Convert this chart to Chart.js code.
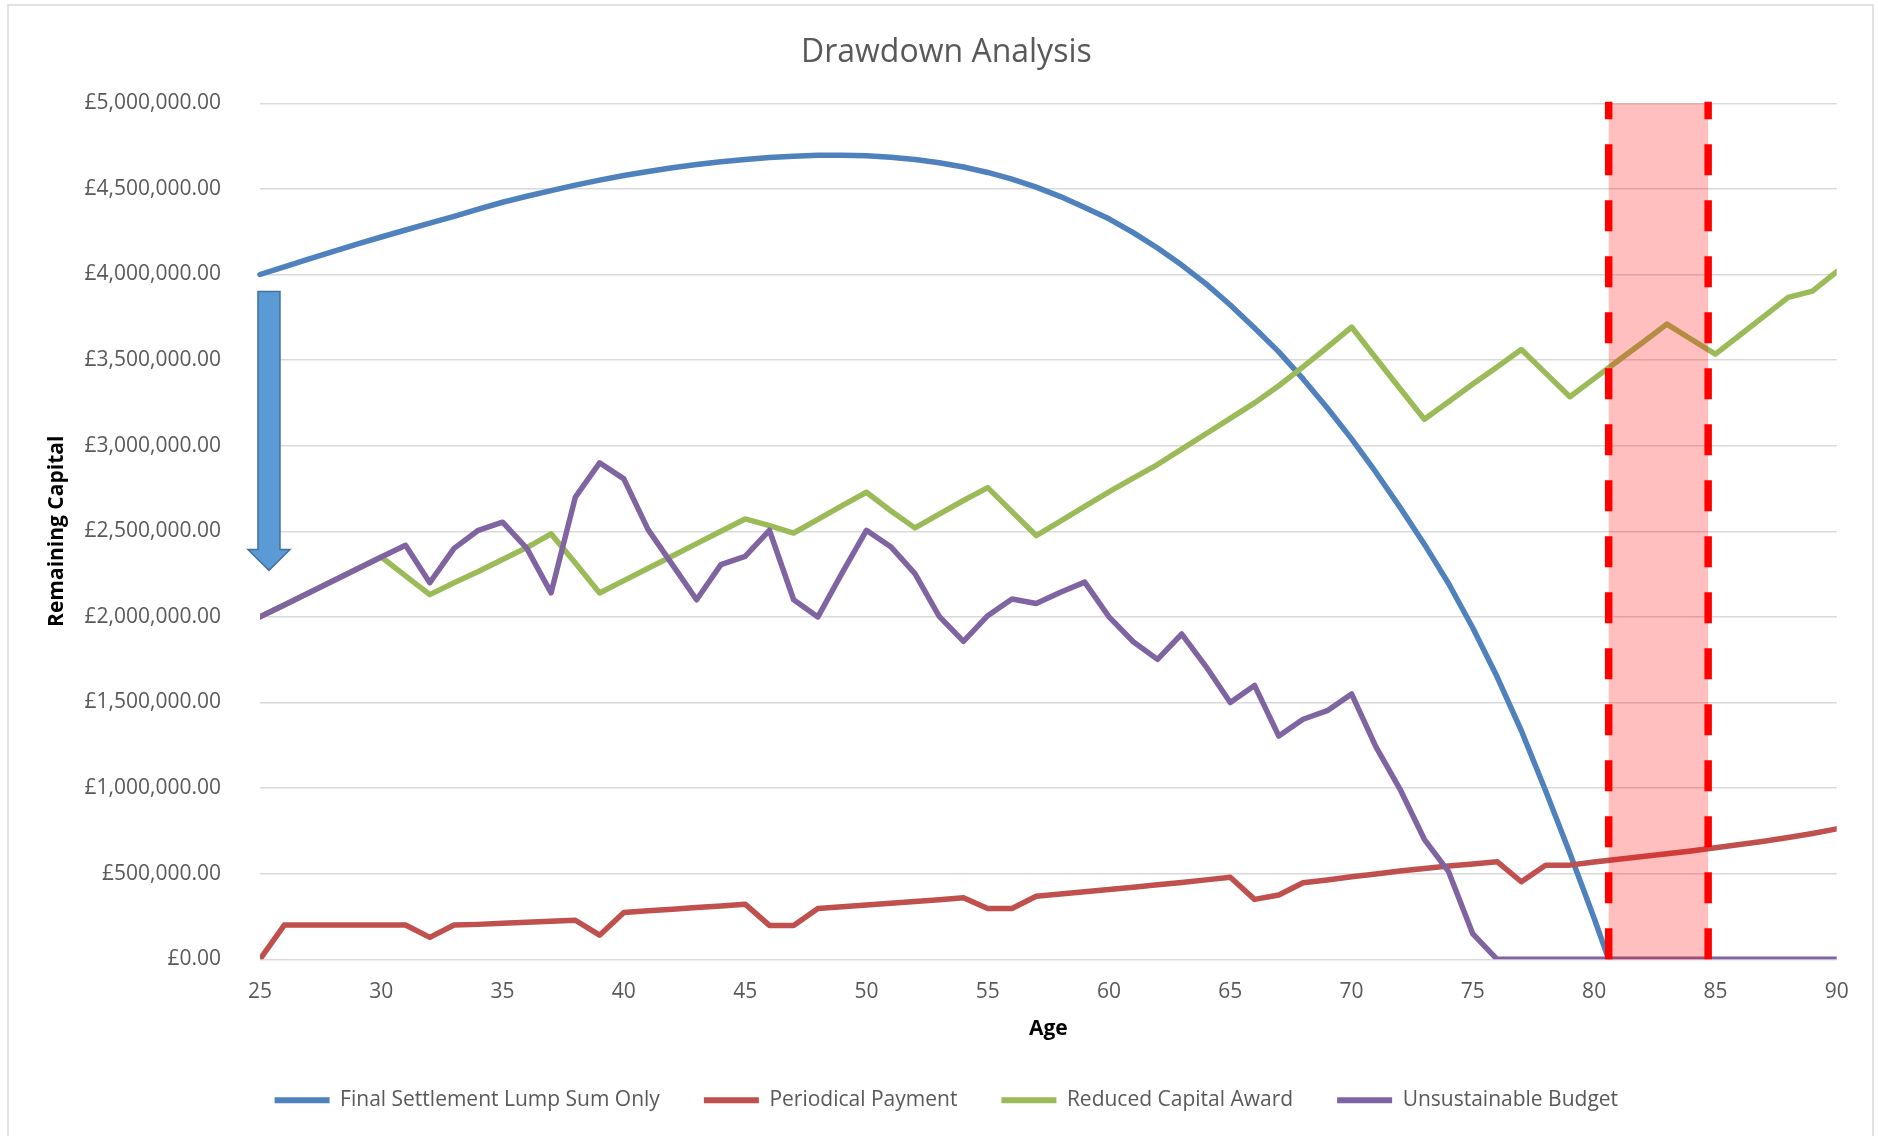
<!DOCTYPE html>
<html>
<head>
<meta charset="utf-8">
<title>Drawdown Analysis</title>
<script src="https://cdn.jsdelivr.net/npm/chart.js@4.4.1/dist/chart.umd.min.js"></script>
<style>
  html, body { margin: 0; padding: 0; background: #ffffff; }
  #wrap { width: 1878px; height: 1136px; position: relative; }
</style>
</head>
<body>
<div id="wrap"><canvas id="drawdown" width="1878" height="1136"></canvas></div>
<script>
// Age of the claimant, one point per year
const ages = [25, 26, 27, 28, 29, 30, 31, 32, 33, 34, 35, 36, 37, 38, 39, 40, 41, 42, 43, 44, 45,
  46, 47, 48, 49, 50, 51, 52, 53, 54, 55, 56, 57, 58, 59, 60, 61, 62, 63, 64, 65, 66, 67, 68,
  69, 70, 71, 72, 73, 74, 75, 76, 77, 78, 79, 80, 81, 82, 83, 84, 85, 86, 87, 88, 89, 90];

// Remaining capital (GBP) under each scenario
const lumpSumOnly = [4000000, 4045000, 4090000, 4134000, 4177000, 4219000, 4260000, 4300000,
  4340000, 4382000, 4422000, 4457000, 4490000, 4522000, 4551000, 4578000, 4602000, 4624000,
  4643000, 4659000, 4672000, 4683000, 4691000, 4696000, 4697000, 4693000, 4685000, 4672000,
  4653000, 4628000, 4596000, 4557000, 4510000, 4455000, 4392000, 4325000, 4245000, 4155000,
  4055000, 3945000, 3822000, 3688000, 3548000, 3390000, 3220000, 3040000, 2845000, 2640000,
  2425000, 2195000, 1935000, 1650000, 1335000, 985000, 620000, 240000, -160000,
  null, null, null, null, null, null, null, null, null];

const periodicalPayment = [0, 200000, 200000, 200000, 200000, 200000, 200000, 128000, 200000,
  204000, 210000, 216000, 222000, 228000, 141000, 273000, 283000, 293000, 302000, 312000,
  322000, 198000, 198000, 297000, 307000, 317000, 328000, 338000, 348000, 359000, 297000,
  297000, 368000, 382000, 395000, 408000, 421000, 435000, 449000, 464000, 479000, 350000,
  376000, 447000, 463000, 482000, 498000, 516000, 531000, 545000, 557000, 570000, 453000,
  549000, 550000, 568000, 584000, 600000, 616000, 633000, 651000, 670000, 690000, 711000,
  735000, 762000];

const reducedCapitalAward = [2000000, 2070000, 2140000, 2210000, 2280000, 2350000, 2240000,
  2130000, 2200000, 2265000, 2335000, 2405000, 2485000, 2315000, 2140000, 2212000, 2284000,
  2356000, 2428000, 2500000, 2572000, 2533000, 2490000, 2570000, 2650000, 2728000, 2620000,
  2520000, 2600000, 2680000, 2755000, 2615000, 2475000, 2560000, 2645000, 2730000, 2810000,
  2890000, 2980000, 3070000, 3160000, 3250000, 3350000, 3460000, 3575000, 3693000, 3512000,
  3333000, 3155000, 3257000, 3360000, 3460000, 3562000, 3424000, 3286000, 3392000, 3498000,
  3603000, 3710000, 3622000, 3535000, 3645000, 3755000, 3866000, 3903000, 4016000];

const unsustainableBudget = [2000000, 2070000, 2140000, 2210000, 2280000, 2350000, 2418000,
  2200000, 2400000, 2506000, 2553000, 2400000, 2140000, 2700000, 2900000, 2806000, 2510000,
  2305000, 2100000, 2305000, 2354000, 2506000, 2100000, 2000000, 2257000, 2506000, 2410000,
  2253000, 2003000, 1857000, 2007000, 2105000, 2078000, 2144000, 2203000, 2000000, 1855000,
  1752000, 1900000, 1710000, 1500000, 1600000, 1304000, 1402000, 1452000, 1550000, 1242000,
  993000, 701000, 512000, 148000, 0, 0, 0, 0, 0, 0, 0, 0, 0, 0, 0, 0, 0, 0, 0];

const seriesNames = ['Final Settlement Lump Sum Only', 'Periodical Payment',
  'Reduced Capital Award', 'Unsustainable Budget'];

// Y axis range and tick step (GBP); x axis age range and label step
const capitalRange = [0, 5000000];
const capitalStep = 500000;
const ageRange = [25, 90];
const ageStep = 5;

// Shaded life-expectancy window (ages) and the drop arrow (age, capital levels)
const lifeExpectancyWindow = [80.6, 84.7];
const dropArrow = { age: 25.37, top: 3900000, headStart: 2393000, tip: 2272000 };

const colours = {
  lump: '#4F81BD', periodical: '#C0504D', reduced: '#9BBB59', budget: '#8064A2'
};

function pounds(v) {
  const parts = Number(v).toFixed(2).split('.');
  return '\u00A3' + parts[0].replace(/\B(?=(\d{3})+(?!\d))/g, ',') + '.' + parts[1];
}

Chart.defaults.font.family = "'Open Sans', 'Liberation Sans', sans-serif";
Chart.defaults.color = '#595959';

const decorations = {
  id: 'decorations',
  beforeDraw(chart) {
    // chart frame
    const ctx = chart.ctx;
    ctx.save();
    ctx.strokeStyle = '#D9D9D9';
    ctx.lineWidth = 1.5;
    ctx.beginPath();
    ctx.moveTo(8, chart.height);
    ctx.lineTo(8, 5);
    ctx.lineTo(1873, 5);
    ctx.lineTo(1873, chart.height);
    ctx.stroke();
    ctx.restore();
  },
  afterDatasetsDraw(chart) {
    const { ctx, scales: { x, y } } = chart;
    const yTop = y.getPixelForValue(capitalRange[1]);
    const yBot = y.getPixelForValue(capitalRange[0]);
    const xa = x.getPixelForValue(lifeExpectancyWindow[0]);
    const xb = x.getPixelForValue(lifeExpectancyWindow[1]);

    ctx.save();
    ctx.fillStyle = 'rgba(255, 0, 0, 0.25)';
    ctx.fillRect(xa, yTop, xb - xa, yBot - yTop);
    ctx.strokeStyle = '#FF0000';
    ctx.lineWidth = 7.5;
    ctx.lineCap = 'butt';
    ctx.setLineDash([31, 25]);
    [xa, xb].forEach(px => {
      ctx.beginPath();
      ctx.moveTo(px, yBot);
      ctx.lineTo(px, yTop - 1.5);
      ctx.stroke();
    });
    ctx.setLineDash([]);

    // downward block arrow
    const cx = x.getPixelForValue(dropArrow.age);
    const t = y.getPixelForValue(dropArrow.top);
    const h = y.getPixelForValue(dropArrow.headStart);
    const tip = y.getPixelForValue(dropArrow.tip);
    const shaft = 11, head = 21;
    ctx.beginPath();
    ctx.moveTo(cx - shaft, t);
    ctx.lineTo(cx + shaft, t);
    ctx.lineTo(cx + shaft, h);
    ctx.lineTo(cx + head, h);
    ctx.lineTo(cx, tip);
    ctx.lineTo(cx - head, h);
    ctx.lineTo(cx - shaft, h);
    ctx.closePath();
    ctx.fillStyle = '#5B9BD5';
    ctx.fill();
    ctx.strokeStyle = '#41719C';
    ctx.lineWidth = 1.5;
    ctx.lineJoin = 'miter';
    ctx.stroke();
    ctx.restore();
  }
};

function lineSet(label, data, colour, order, extra) {
  return Object.assign({
    label, data, order,
    borderColor: colour,
    backgroundColor: colour,
    borderWidth: 5.5,
    pointRadius: 0,
    pointHoverRadius: 0,
    tension: 0,
    borderJoinStyle: 'round',
    borderCapStyle: 'round',
    spanGaps: false
  }, extra || {});
}

new Chart(document.getElementById('drawdown'), {
  type: 'line',
  data: {
    labels: ages,
    datasets: [
      lineSet(seriesNames[0], lumpSumOnly, colours.lump, 4,
        { clip: { left: 10, top: 10, right: 10, bottom: 0 } }),
      lineSet(seriesNames[1], periodicalPayment, colours.periodical, 3),
      lineSet(seriesNames[2], reducedCapitalAward, colours.reduced, 2),
      lineSet(seriesNames[3], unsustainableBudget, colours.budget, 1)
    ]
  },
  options: {
    responsive: false,
    animation: false,
    events: [],
    layout: { padding: { left: 56, right: 41.3, top: 0, bottom: 15.2 } },
    plugins: {
      tooltip: { enabled: false },
      title: {
        display: true,
        text: 'Drawdown Analysis',
        color: '#595959',
        font: { size: 32, weight: 'normal' },
        padding: { top: 33.4, bottom: 31.5 }
      },
      legend: {
        position: 'bottom',
        labels: {
          color: '#595959',
          font: { size: 21 },
          boxWidth: 55,
          boxHeight: 6,
          padding: 44,
          sort: (a, b) => a.datasetIndex - b.datasetIndex,
          generateLabels(chart) {
            return Chart.defaults.plugins.legend.labels.generateLabels(chart)
              .map(item => Object.assign({}, item, { lineWidth: 0, fillStyle: item.strokeStyle }));
          }
        }
      }
    },
    scales: {
      x: {
        type: 'linear',
        min: ageRange[0],
        max: ageRange[1],
        grid: { display: false, drawTicks: false },
        border: { display: false },
        ticks: { stepSize: ageStep, padding: 19.8, color: '#595959', font: { size: 21 }, maxRotation: 0 },
        title: {
          display: true, text: 'Age', color: '#000000',
          font: { size: 21, weight: 'bold' }, padding: { top: 0, bottom: 3.7 }
        },
        afterFit(scale) { scale.height = 86.5; scale.paddingLeft = 0; scale.paddingRight = 0; }
      },
      y: {
        min: capitalRange[0],
        max: capitalRange[1],
        grid: { color: '#D9D9D9', lineWidth: 1.5, drawTicks: false },
        border: { display: false },
        ticks: {
          stepSize: capitalStep, padding: 39, color: '#595959', font: { size: 21 },
          callback: v => pounds(v)
        },
        title: {
          display: true, text: 'Remaining Capital', color: '#000000',
          font: { size: 21, weight: 'bold' }, padding: { top: -11.6, bottom: 0 }
        },
        afterFit(scale) { scale.width = 204; scale.paddingTop = 0; scale.paddingBottom = 0; }
      }
    }
  },
  plugins: [decorations]
});
</script>
</body>
</html>
